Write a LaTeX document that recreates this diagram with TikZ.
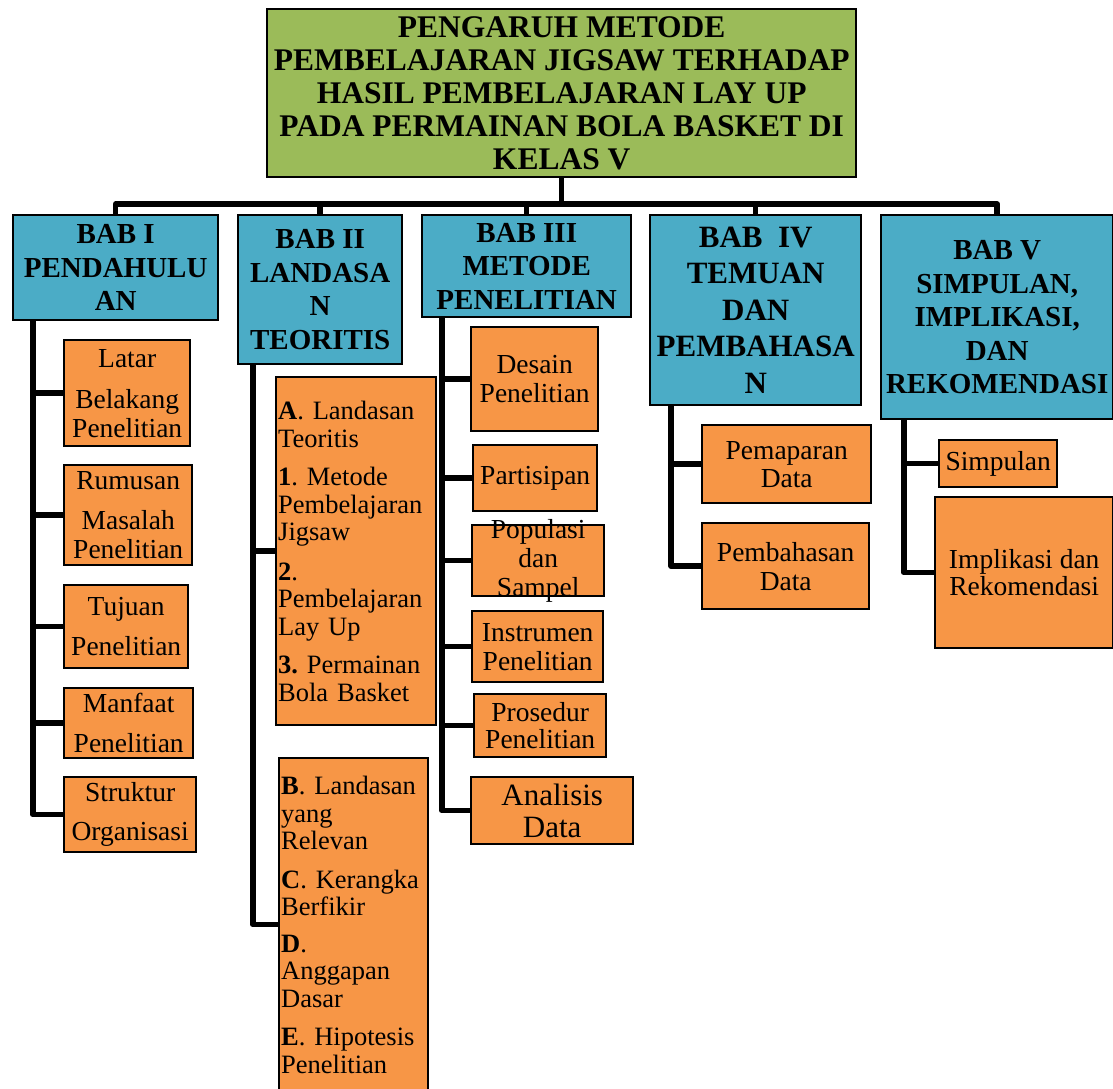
\documentclass[tikz,border=0pt]{standalone}
\usepackage{fontspec}
\setmainfont{Liberation Serif}
\frenchspacing

\definecolor{judulhijau}{HTML}{9BBB59}
\definecolor{babbiru}{HTML}{4BACC6}
\definecolor{isioranye}{HTML}{F79646}

\tikzset{
  kotak/.style={draw=black, line width=2.4pt, rectangle, inner sep=2pt, anchor=north west},
  judulbox/.style={kotak, fill=judulhijau, align=center, font=\bfseries\fontsize{31.5}{33}\selectfont},
  babbox/.style={kotak, fill=babbiru, align=center, font=\bfseries\fontsize{29}{33.5}\selectfont},
  isibox/.style={kotak, fill=isioranye, align=center, font=\fontsize{27.5}{29}\selectfont},
  teoribox/.style={kotak, fill=isioranye, align=left, font=\frenchspacing\fontsize{26.5}{27.5}\selectfont},
  garis/.style={line width=5.5pt, line join=round},
}

\begin{document}
\begin{tikzpicture}[x=1pt,y=1pt,yscale=-1,xscale=1]
    \useasboundingbox (0,0) rectangle (1113,1088);

    % Judul
    \node [judulbox, minimum width=589pt, minimum height=168pt] (judul) at (266,8) {PENGARUH METODE\\PEMBELAJARAN JIGSAW TERHADAP\\HASIL PEMBELAJARAN LAY UP\\PADA PERMAINAN BOLA BASKET DI\\KELAS V};

    % Bab
    \node [babbox, minimum width=205pt, minimum height=105pt] (bab1) at (12,214) {BAB I\\PENDAHULU\\AN};
    \node [babbox, minimum width=164pt, minimum height=149pt] (bab2) at (237,214) {BAB II\\LANDASA\\N\\TEORITIS};
    \node [babbox, minimum width=209pt, minimum height=102pt] (bab3) at (421,214) {BAB III\\METODE\\PENELITIAN};
    \node [babbox, minimum width=211pt, minimum height=190pt, font=\bfseries\fontsize{31}{36.5}\selectfont] (bab4) at (649,214) {BAB\ \ IV\\TEMUAN\\DAN\\PEMBAHASA\\N};
    \node [babbox, minimum width=232pt, minimum height=204pt] (bab5) at (880,214) {BAB V\\SIMPULAN,\\IMPLIKASI,\\DAN\\REKOMENDASI};

    %Straight Lines judul ke bab
    \coordinate (palang) at (560,204);
    \draw [garis] (judul.south) -- (judul.south |- palang);
    \draw [garis] (bab1.north) |- (palang) -| (bab5.north);
    \draw [garis] (bab2.north) -- (bab2.north |- palang);
    \draw [garis] (bab3.north) -- (bab3.north |- palang);
    \draw [garis] (bab4.north) -- (bab4.north |- palang);

    % Bab I
    \node [isibox, minimum width=126pt, minimum height=106pt] (latar) at (63,339) {Latar\\[12pt]Belakang\\Penelitian};
    \node [isibox, minimum width=128pt, minimum height=100pt] (rumusan) at (63,464) {Rumusan\\[11pt]Masalah\\Penelitian};
    \node [isibox, minimum width=124pt, minimum height=83pt] (tujuan) at (63,584) {Tujuan\\[11pt]Penelitian};
    \node [isibox, minimum width=129pt, minimum height=70pt] (manfaat) at (63,687) {Manfaat\\[11pt]Penelitian};
    \node [isibox, minimum width=132pt, minimum height=75pt] (struktur) at (63,776) {Struktur\\[10pt]Organisasi};
    %Straight Lines
    \draw [garis] ([xshift=21pt]bab1.south west) |- (latar.west);
    \draw [garis] ([xshift=21pt]bab1.south west) |- (rumusan.west);
    \draw [garis] ([xshift=21pt]bab1.south west) |- (tujuan.west);
    \draw [garis] ([xshift=21pt]bab1.south west) |- (manfaat.west);
    \draw [garis] ([xshift=21pt]bab1.south west) |- (struktur.west);

    % Bab II
    \node [teoribox, text width=156pt, minimum height=348pt] (teoriA) at (275,376) {\textbf{A}. Landasan\\Teoritis\\[11pt]\textbf{1}. Metode\\Pembelajaran\\Jigsaw\\[12pt]\textbf{2}.\\Pembelajaran\\Lay Up\\[11pt]\textbf{3.} Permainan\\Bola Basket};
    \node [teoribox, text width=145pt, minimum height=333pt] (teoriB) at (278,757) {\textbf{B}. Landasan\\yang\\Relevan\\[11pt]\textbf{C}. Kerangka\\Berfikir\\[9pt]\textbf{D}.\\Anggapan\\Dasar\\[11pt]\textbf{E}. Hipotesis\\Penelitian};
    %Straight Lines
    \draw [garis] ([xshift=16pt]bab2.south west) |- (teoriA.west);
    \draw [garis] ([xshift=16pt]bab2.south west) |- (teoriB.west);

    % Bab III
    \node [isibox, minimum width=127pt, minimum height=104pt] (desain) at (470,326) {Desain\\Penelitian};
    \node [isibox, minimum width=124pt, minimum height=66pt] (partisipan) at (472,444) {Partisipan};
    \node [isibox, minimum width=132pt, minimum height=70pt, inner ysep=-6pt] (populasi) at (471,524) {Populasi\\dan\\Sampel};
    \node [isibox, minimum width=131pt, minimum height=71pt] (instrumen) at (471,610) {Instrumen\\Penelitian};
    \node [isibox, minimum width=132pt, minimum height=63pt, font=\fontsize{27.5}{27.5}\selectfont] (prosedur) at (473,693) {Prosedur\\Penelitian};
    \node [isibox, minimum width=162pt, minimum height=67pt, font=\fontsize{31}{32}\selectfont] (analisis) at (470,776) {Analisis\\Data};
    %Straight Lines
    \draw [garis] ([xshift=21pt]bab3.south west) |- (desain.west);
    \draw [garis] ([xshift=21pt]bab3.south west) |- (partisipan.west);
    \draw [garis] ([xshift=21pt]bab3.south west) |- (populasi.west);
    \draw [garis] ([xshift=21pt]bab3.south west) |- (instrumen.west);
    \draw [garis] ([xshift=21pt]bab3.south west) |- (prosedur.west);
    \draw [garis] ([xshift=21pt]bab3.south west) |- (analisis.west);

    % Bab IV
    \node [isibox, minimum width=169pt, minimum height=78pt, font=\fontsize{27.5}{28}\selectfont] (pemaparan) at (701,424) {Pemaparan\\Data};
    \node [isibox, minimum width=167pt, minimum height=86pt] (pembahasan) at (701,522) {Pembahasan\\Data};
    %Straight Lines
    \draw [garis] ([xshift=22pt]bab4.south west) |- (pemaparan.west);
    \draw [garis] ([xshift=22pt]bab4.south west) |- (pembahasan.west);

    % Bab V
    \node [isibox, minimum width=118pt, minimum height=47pt] (simpulan) at (938,439) {Simpulan};
    \node [isibox, minimum width=178pt, minimum height=151pt, font=\fontsize{27.5}{27.5}\selectfont] (implikasi) at (934,496) {Implikasi dan\\Rekomendasi};
    %Straight Lines
    \draw [garis] ([xshift=24pt]bab5.south west) |- (simpulan.west);
    \draw [garis] ([xshift=24pt]bab5.south west) |- (implikasi.west);
\end{tikzpicture}
\end{document}
